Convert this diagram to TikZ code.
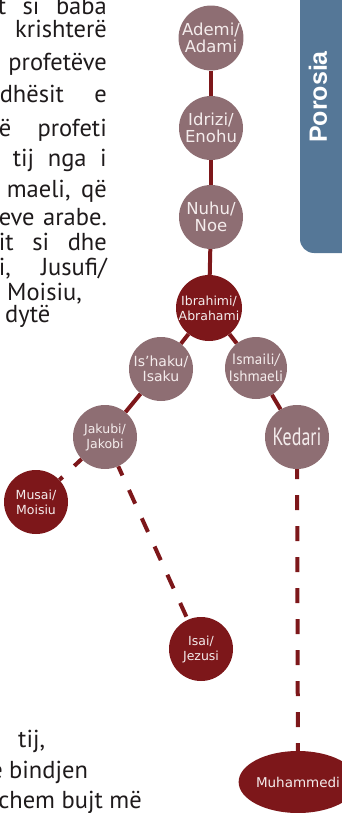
\documentclass[tikz,border=0pt]{standalone}
\usepackage{fontspec}
\setmainfont{PT Sans}
\newfontfamily\bodyf{PT Sans}
\newfontfamily\dvs{DejaVu Sans}
\newfontfamily\arialb{Liberation Sans}
\usetikzlibrary{shapes.geometric}
\definecolor{mauve}{HTML}{8E6E73}
\definecolor{dred}{HTML}{7D171A}
\definecolor{tabblue}{HTML}{557797}
\definecolor{ntext}{HTML}{F4ECEC}
\definecolor{ink}{HTML}{1E1A1B}
\tikzset{
  body/.style={inner sep=0pt, font=\bodyf\fontsize{24.5}{24.5}\selectfont, text=ink},
  pers/.style={circle, fill=mauve, inner sep=0pt, minimum size=64pt, text=ntext, align=center},
  prophet/.style={pers, fill=dred},
  big/.style={font=\dvs\fontsize{16.5}{17}\selectfont},
  small/.style={font=\dvs\fontsize{12.5}{15}\selectfont},
  link/.style={draw=dred, line width=4pt},
  dlink/.style={link, dash pattern=on 15pt off 16pt, dash phase=5pt}
}
\begin{document}
\begin{tikzpicture}[x=1pt,y=-1pt]
\useasboundingbox (0,0) rectangle (342,813);
% tab
\fill[tabblue, rounded corners=14pt] (360,-60) -- (300,-60) -- (300,253) -- (360,253) -- cycle;
\node[rotate=90, inner sep=0pt, text=white, font=\arialb\bfseries\fontsize{25}{25}\selectfont] (por) at (318,97) {Porosia};
% body text
\node[body, anchor=base east] (l1) at (107,15) {\makebox[109pt][s]{t si baba}};
\node[body, anchor=base east] (l2) at (107,38) {krishterë};
\node[body, anchor=base east] (l3) at (107,71) {profetëve};
\node[body, anchor=base east] (l4) at (107,103) {\makebox[107pt][s]{dhësit e}};
\node[body, anchor=base east] (l5) at (107,137) {\makebox[108pt][s]{ë profeti}};
\node[body, anchor=base east] (l6) at (107,167) {\makebox[94pt][s]{tij nga i}};
\node[body, anchor=base east] (l7) at (107,197) {\makebox[100pt][s]{maeli, që}};
\node[body, anchor=base east] (l8) at (107,225) {\makebox[108pt][s]{eve arabe.}};
\node[body, anchor=base east] (l9) at (107,250) {\makebox[108pt][s]{it si dhe}};
\node[body, anchor=base east] (l10) at (107,275) {\makebox[108pt][s]{i, Jusufi/}};
\node[body, anchor=base west] (l11) at (7,300) {Moisiu,};
\node[body, anchor=base west] (l12) at (5,322) {dytë};
\node[body, anchor=base west] (b1) at (18,747) {tij,};
\node[body, anchor=base east] (b2a) at (3,778) {e};
\node[body, anchor=base west] (b2) at (9,778) {bindjen};
\node[body, anchor=base east] (b3) at (142,808) {chem bujt më};
% persons
\node[pers, big] (ade) at (211,38) {Ademi/\\Adami};
\node[pers, big] (idr) at (211,128) {Idrizi/\\Enohu};
\node[pers, big] (nuh) at (211,217) {Nuhu/\\Noe};
\node[prophet, small, minimum size=66pt] (ibr) at (209,308) {Ibrahimi/\\Abrahami};
\node[pers, font=\dvs\fontsize{14}{15}\selectfont] (ish) at (161,369) {Is’haku/\\Isaku};
\node[pers, font=\bodyf\fontsize{15}{17}\selectfont, minimum size=62pt] (ism) at (256,368) {Ismaili/\\Ishmaeli};
\node[pers] (ked) at (297,437) {\bodyf\fontsize{25}{25}\selectfont\scalebox{0.72}[1]{Kedari}};
\node[pers, small] (jak) at (105,437) {Jakubi/\\Jakobi};
\node[prophet, small] (mus) at (36,502) {Musai/\\Moisiu};
\node[prophet, small] (isa) at (201,649) {Isai/\\Jezusi};
\node[ellipse, fill=dred, inner sep=0pt, minimum width=92pt, minimum height=62pt, text=ntext, font=\dvs\fontsize{13.5}{15}\selectfont] (muh) at (298,782) {Muhammedi};
% connectors
\draw[link] (ade) -- (idr);
\draw[link] (idr) -- (nuh);
\draw[link] (nuh) -- (ibr);
\draw[link] (ibr) -- (ish);
\draw[link] (ibr) -- (ism);
\draw[link] (ish) -- (jak);
\draw[link] (ism) -- (ked);
\draw[dlink] (jak) -- (mus);
\draw[dlink] (jak) -- (isa);
\draw[dlink] (ked) -- (muh);
\end{tikzpicture}
\end{document}
